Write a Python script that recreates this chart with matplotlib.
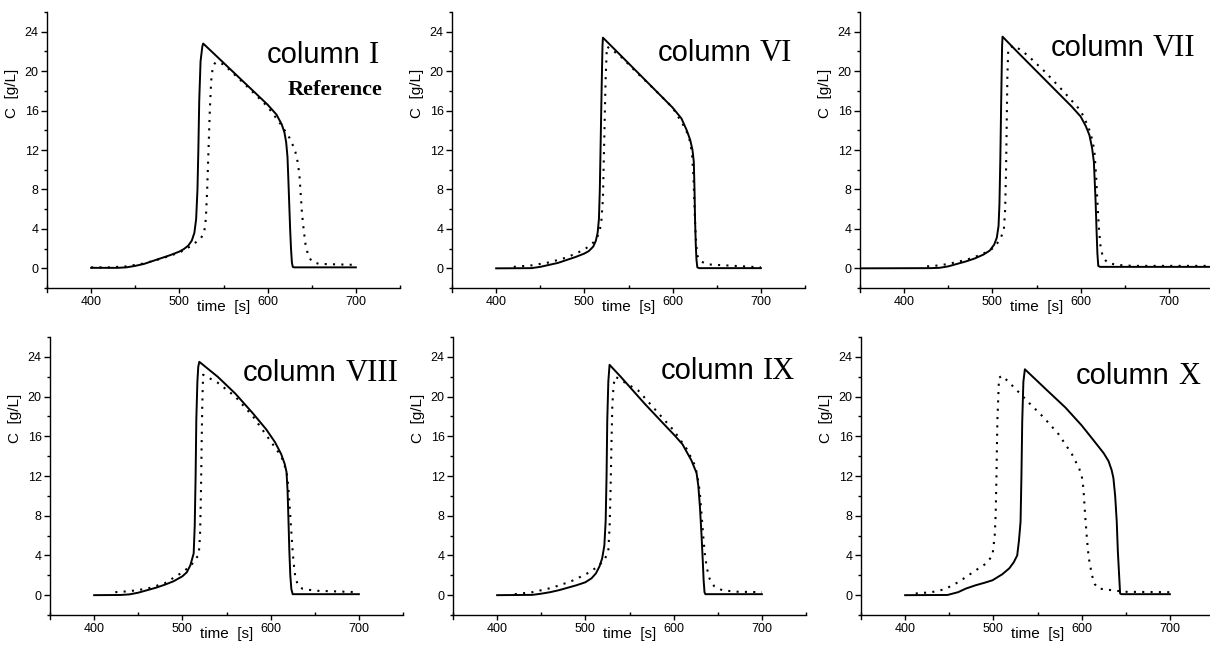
import matplotlib
matplotlib.use("Agg")
import matplotlib.pyplot as plt
from matplotlib.text import Annotation
from matplotlib.ticker import MultipleLocator

plt.rcParams['font.family'] = ['Liberation Sans', 'DejaVu Sans']

# ---------------- data ----------------
# column I (Reference)
t_I_sim = [400, 430, 440, 450, 460, 470, 480, 490, 500, 505, 510, 514, 517, 519, 520.5, 521.5, 522.5, 524, 526, 527,
           540, 560, 580, 600, 610, 616, 619, 621, 622.5, 623.5, 624.5, 625.5, 626.5, 627.5, 628.5, 630, 700]
c_I_sim = [0.05, 0.05, 0.1, 0.25, 0.45, 0.75, 1.05, 1.35, 1.7, 1.95, 2.3, 2.8, 3.6, 5.0, 8, 12, 17, 21, 22.5, 22.8,
           21.7, 20.0, 18.3, 16.6, 15.6, 14.6, 13.8, 12.8, 11.3, 9.0, 6.5, 4.0, 2.0, 0.6, 0.15, 0.1, 0.1]
t_I_exp = [400, 420, 440, 460, 480, 500, 510, 518, 524, 528, 530, 531.5, 533, 534.5, 536, 538, 541,
           550, 575, 600, 615, 625, 631, 634, 636, 637.5, 639, 641, 643, 646, 650, 658, 700]
c_I_exp = [0.1, 0.1, 0.2, 0.5, 1.0, 1.6, 2.1, 2.6, 3.0, 3.6, 5, 8, 12, 16, 19, 20.5, 20.9,
           20.7, 18.6, 16.4, 14.6, 13.2, 12.0, 10.8, 9.5, 7.5, 5.5, 3.8, 2.4, 1.3, 0.7, 0.45, 0.35]

# column VI
t_VI_sim = [400, 440, 450, 460, 470, 480, 490, 500, 505, 510, 513, 515, 516.5, 517.5, 518.5, 519.5, 520.5, 521,
            540, 560, 580, 600, 610, 616, 620, 622.5, 624, 624.8, 625.4, 626.2, 627, 628, 630, 700]
c_VI_sim = [0.0, 0.02, 0.15, 0.35, 0.55, 0.85, 1.15, 1.5, 1.75, 2.2, 2.8, 3.6, 5, 8, 13, 18, 22.5, 23.4,
            21.7, 19.9, 18.1, 16.3, 15.2, 14.0, 13.0, 12.0, 10.8, 8, 5, 2.5, 0.9, 0.1, 0.02, 0.02]
t_VI_exp = [420, 440, 460, 480, 500, 510, 516, 519, 521, 522, 523, 524, 525.5,
            540, 560, 580, 600, 615, 620, 622, 623.5, 624.5, 625.5, 626.5, 628, 632, 640, 660, 700]
c_VI_exp = [0.15, 0.3, 0.6, 1.1, 1.9, 2.6, 3.4, 4.5, 7, 11, 15, 19, 22.5,
            21.6, 19.8, 18.1, 16.3, 14.1, 12.8, 11.5, 9.5, 7, 4.5, 2.7, 1.3, 0.7, 0.4, 0.3, 0.1]

# column VII
t_VII_sim = [350, 430, 440, 450, 460, 470, 480, 490, 497, 502, 505, 507, 508, 509, 510, 511, 511.5,
             530, 550, 570, 590, 600, 606, 610, 613, 615, 616, 617, 618, 619, 620, 622, 750]
c_VII_sim = [0.0, 0.02, 0.05, 0.2, 0.45, 0.7, 1.0, 1.4, 1.8, 2.4, 3.1, 4.3, 6.5, 11, 17, 22.5, 23.5,
             21.8, 20.0, 18.2, 16.4, 15.4, 14.4, 13.5, 12.2, 10.8, 8.8, 6.7, 4.0, 1.5, 0.25, 0.15, 0.15]
t_VII_exp = [426, 440, 450, 460, 470, 480, 490, 500, 506, 510, 513, 514.5, 515.5, 516.3, 517, 518,
             525, 540, 560, 580, 600, 609, 613, 615.5, 617.5, 619, 620.8, 622.5, 625, 630, 640, 660, 750]
c_VII_exp = [0.2, 0.3, 0.45, 0.65, 0.85, 1.15, 1.5, 2.0, 2.6, 3.2, 3.9, 6, 10, 15, 19.5, 22.3,
             22.6, 21.6, 19.9, 18.0, 16.0, 14.3, 13.1, 12.0, 9.5, 6.7, 4.0, 2.3, 1.2, 0.6, 0.35, 0.25, 0.25]

# column VIII
t_VIII_sim = [400, 430, 440, 450, 460, 470, 480, 490, 500, 505, 509, 512.8, 514, 515, 515.8, 517, 518, 519.2,
              540, 560, 580, 595, 605, 612, 616, 618, 619.2, 620.2, 621.2, 622.3, 623.5, 625, 700]
c_VIII_sim = [0.0, 0.02, 0.08, 0.25, 0.5, 0.75, 1.05, 1.4, 1.9, 2.3, 3.0, 4.2, 7, 12, 17.7, 21.5, 23.0, 23.5,
              22.0, 20.3, 18.3, 16.7, 15.4, 14.2, 13.2, 12.4, 10.5, 7.6, 4.5, 2.0, 0.6, 0.1, 0.1]
t_VIII_exp = [424, 440, 460, 480, 500, 510, 515, 518.5, 520, 521, 521.8, 522.5, 523.5,
              540, 560, 580, 600, 612, 618, 620, 621.5, 623, 624.5, 626, 628, 631, 636, 650, 700]
c_VIII_exp = [0.3, 0.4, 0.65, 1.2, 2.3, 3.0, 3.7, 4.0, 6, 10, 15, 19, 22.2,
              21.4, 20.0, 18.0, 15.5, 14.0, 12.5, 11.0, 9.0, 7.0, 5.0, 3.3, 1.8, 1.0, 0.65, 0.45, 0.3]

# column IX
t_IX_sim = [400, 440, 450, 460, 470, 480, 490, 500, 507, 512, 516, 519, 521.5, 523, 524, 524.8, 526, 527.4,
            540, 567, 585, 601, 610, 620, 626, 628, 629.8, 631.7, 633, 634, 635, 636, 700]
c_IX_sim = [0.0, 0.03, 0.15, 0.3, 0.5, 0.75, 1.0, 1.3, 1.7, 2.2, 2.9, 3.7, 5, 7.5, 12, 17.6, 21.5, 23.2,
            22.0, 19.3, 17.6, 16.1, 15.2, 13.6, 12.3, 11.0, 8.9, 5.9, 3.5, 1.5, 0.3, 0.1, 0.1]
t_IX_exp = [420, 440, 460, 471, 486.6, 505.7, 515.5, 522, 526, 527.5, 528.6, 529.5, 530.5, 532, 534,
            560, 580, 600, 615, 624, 627, 629.5, 631.5, 633.5, 635.5, 638, 641, 646, 655, 670, 700]
c_IX_exp = [0.1, 0.3, 0.7, 1.0, 1.5, 2.35, 3.0, 3.6, 4.5, 7, 10.9, 15, 19, 21.2, 22.0,
            20.6, 18.6, 16.6, 14.7, 13.1, 12.0, 10.5, 8.3, 6.0, 4.0, 2.6, 1.6, 0.9, 0.5, 0.35, 0.3]

# column X
t_X_sim = [400, 448, 460, 469, 480, 490, 499, 510, 518, 523, 527, 529, 530.8, 531.8, 532.7, 534, 535.7,
           560, 581.6, 600, 611.7, 625, 630.5, 634, 636, 638, 639.8, 641, 642.5, 643.6, 645, 700]
c_X_sim = [0.0, 0.02, 0.3, 0.67, 1.0, 1.25, 1.5, 2.1, 2.7, 3.3, 4.0, 5.5, 7.4, 12, 17.5, 21.5, 22.75,
           20.7, 18.9, 17.1, 15.8, 14.3, 13.5, 12.6, 11.8, 10.0, 7.4, 4.5, 2.0, 0.17, 0.1, 0.1]
t_X_exp = [412, 430, 445, 461, 480, 492, 499, 501.5, 502.6, 503.5, 504.5, 506.4, 510, 517, 527, 540, 557,
           574, 589, 597, 600, 602, 604, 606, 608, 611.7, 615, 619, 634, 649, 700]
c_X_exp = [0.17, 0.3, 0.6, 1.35, 2.5, 3.2, 4.0, 6, 8.1, 12, 17.5, 21.9, 22.1, 21.5, 20.6, 19.4, 17.9,
           16.2, 14.2, 12.8, 12.1, 10.8, 8, 5.7, 3.8, 2.0, 1.1, 0.67, 0.5, 0.34, 0.3]

panel_numerals = ["I", "VI", "VII", "VIII", "IX", "X"]
sim_series = [(t_I_sim, c_I_sim), (t_VI_sim, c_VI_sim), (t_VII_sim, c_VII_sim),
              (t_VIII_sim, c_VIII_sim), (t_IX_sim, c_IX_sim), (t_X_sim, c_X_sim)]
exp_series = [(t_I_exp, c_I_exp), (t_VI_exp, c_VI_exp), (t_VII_exp, c_VII_exp),
              (t_VIII_exp, c_VIII_exp), (t_IX_exp, c_IX_exp), (t_X_exp, c_X_exp)]
x_ticks = [400, 500, 600, 700]
y_ticks = [0, 4, 8, 12, 16, 20, 24]

# ---------------- layout ----------------
W, H = 1210, 645
fig = plt.figure(figsize=(W / 100, H / 100), dpi=100)

# axes rectangles in pixels: (left, top, width, height)
rects = [(47, 12, 353, 280), (452, 12, 353, 280), (860, 12, 353, 280),
         (50, 337, 353, 282), (453, 337, 353, 282), (861, 337, 353, 282)]
# title anchors: (right edge px, baseline px from top)
title_pos = [(379, 63), (792, 61), (1195, 56), (398, 381), (795, 379), (1200, 384)]

for i, (l, t, w, h) in enumerate(rects):
    ax = fig.add_axes([l / W, 1 - (t + h) / H, w / W, h / H])
    ts, cs = sim_series[i]
    te, ce = exp_series[i]
    ax.plot(ts, cs, color='black', lw=1.4, solid_joinstyle='round')
    ax.plot(te, ce, color='black', lw=1.5, linestyle=(0, (1, 3)))
    ax.set_xlim(350, 750)
    ax.set_ylim(-2.4, 26)
    ax.spines['top'].set_visible(False)
    ax.spines['right'].set_visible(False)
    ax.spines['bottom'].set_position(('data', -2))
    ax.spines['left'].set_bounds(-2.4, 26)
    for s in ('left', 'bottom'):
        ax.spines[s].set_linewidth(1.0)
    ax.set_xticks(x_ticks)
    ax.set_yticks(y_ticks)
    ax.xaxis.set_minor_locator(MultipleLocator(50))
    ax.yaxis.set_minor_locator(MultipleLocator(2))
    ax.tick_params(axis='x', which='major', direction='out', length=3.5, width=1.0, labelsize=9, pad=2.5)
    ax.tick_params(axis='x', which='minor', direction='in', length=2.5, width=1.0)
    ax.tick_params(axis='y', which='major', direction='out', length=4.5, width=1.0, labelsize=9, pad=1.5)
    ax.tick_params(axis='y', which='minor', direction='out', length=2.5, width=1.0)
    ax.set_xlabel("time  [s]", fontsize=11)
    ax.set_ylabel("C  [g/L]", fontsize=11)
    ax.xaxis.set_label_coords(0.5, -8 / h)
    ax.yaxis.set_label_coords(-28 / w, 0.71)

    # title: "column" (sans) + roman numeral (serif)
    xr, yb = title_pos[i]
    num = fig.text(xr / W, 1 - yb / H, panel_numerals[i], ha='right', va='baseline',
                   fontsize=22, family=['Liberation Serif', 'DejaVu Serif'])
    ann = Annotation("column", xy=(0, H - yb), xycoords=(num, 'figure pixels'),
                     xytext=(-6, 0), textcoords='offset points', ha='right', va='baseline',
                     fontsize=21, family=['Liberation Sans', 'DejaVu Sans'])
    fig.add_artist(ann)

fig.text(382 / W, 1 - 95 / H, "Reference", ha='right', va='baseline', fontsize=16,
         fontweight='bold', family=['Liberation Serif', 'DejaVu Serif'])

fig.savefig("out.png", dpi=100)
